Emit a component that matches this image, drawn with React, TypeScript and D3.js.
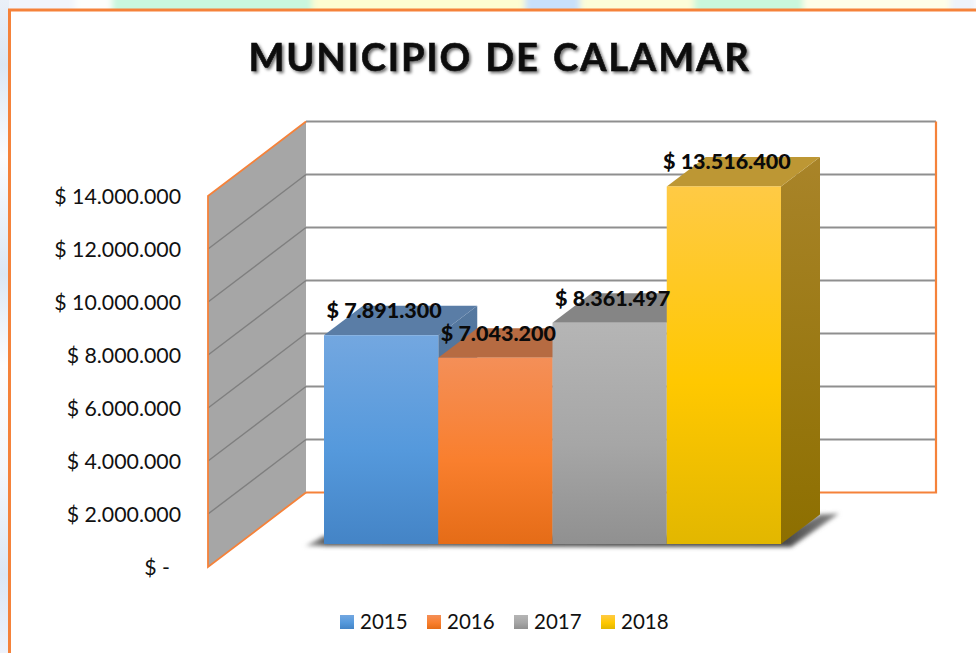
import React from "react";
import * as d3 from "d3";

const title = "MUNICIPIO DE CALAMAR";
const years = ["2015", "2016", "2017", "2018"];
const values = [7891300, 7043200, 8361497, 13516400];
const ticks = [0, 2000000, 4000000, 6000000, 8000000, 10000000, 12000000, 14000000];
const frontStops = [
  ["#73a7e0", "#5599dc", "#4484c6"],
  ["#f48f58", "#f97f2e", "#e56c17"],
  ["#b5b5b5", "#a6a6a6", "#909090"],
  ["#ffca45", "#ffc800", "#e2b700"],
];
const topColors = ["#5a7da6", "#b66b42", "#858585", "#bd9734"];
const sideStops = [
  ["#55789f", "#4a6e96"],
  ["#b06a40", "#a05a2c"],
  ["#808080", "#6f6f6f"],
  ["#a98429", "#8d6f00"],
];
const bgPatches: [number, number, string][] = [
  [0, 75, "#f1f5fb"],
  [75, 112, "#fdfefb"],
  [112, 312, "#c9f7de"],
  [312, 525, "#fdfdd2"],
  [525, 580, "#c8e0fb"],
  [580, 694, "#fcfdd8"],
  [694, 803, "#c9f7dc"],
  [803, 950, "#fefee8"],
  [950, 976, "#eef3fa"],
];

const fontFamily = "Lato, 'Open Sans', sans-serif";
const ORANGE = "#f5823a";
const GRID = "#8f8f8f";

const money = d3.formatLocale({
  decimal: ",",
  thousands: ".",
  grouping: [3],
  currency: ["$ ", ""],
}).format("$,.0f");

const tickLabel = (v: number) => (v === 0 ? "$ -" : money(v));

const W = 976;
const H = 653;
// Wall plane (left, front edge) and the bars' plane
const yWall = d3.scaleLinear().domain([0, 14000000]).range([567, 196]);
const yBar = d3.scaleLinear().domain([0, 14000000]).range([544, 173.6]);
const x = d3.scaleBand<string>().domain(years).range([324, 781]).paddingInner(0).paddingOuter(0);
const WALL_X0 = 208;
const WALL_DX = 98;
const WALL_DY = 74.5;
const BACK_X1 = 936;
const BAR_DX = 39;
const BAR_DY = 29.5;

const poly = (pts: [number, number][]) => d3.line()(pts) + "Z";

export default function App() {
  const y0 = yBar(0);
  const xEnd = x.range()[1];
  const xStart = x.range()[0];
  return (
    <svg
      width={W}
      height={H}
      viewBox={`0 0 ${W} ${H}`}
      style={{ position: "absolute", left: 0, top: 0, display: "block" }}
    >
      <defs>
        <linearGradient id="leftBg" x1="0" x2="0" y1="0" y2="1">
          <stop offset="0" stopColor="#eaf0f8" />
          <stop offset="0.1" stopColor="#dce7f4" />
          <stop offset="0.24" stopColor="#fbfcfe" />
          <stop offset="0.42" stopColor="#dce7f4" />
          <stop offset="0.56" stopColor="#fdfdfe" />
          <stop offset="0.72" stopColor="#f4f7fb" />
          <stop offset="0.88" stopColor="#dce7f5" />
          <stop offset="1" stopColor="#eef2fb" />
        </linearGradient>
        <linearGradient id="shadowFill" x1="0" x2="1" y1="0" y2="0">
          <stop offset="0" stopColor="#bdbdbd" />
          <stop offset="0.04" stopColor="#555" />
          <stop offset="0.9" stopColor="#4a4a4a" />
          <stop offset="1" stopColor="#8a8a8a" />
        </linearGradient>
        {frontStops.map((s, i) => (
          <linearGradient id={`front${i}`} key={i} x1="0" x2="0" y1="0" y2="1">
            <stop offset="0" stopColor={s[0]} />
            <stop offset="0.55" stopColor={s[1]} />
            <stop offset="1" stopColor={s[2]} />
          </linearGradient>
        ))}
        {sideStops.map((s, i) => (
          <linearGradient id={`side${i}`} key={i} x1="0" x2="0" y1="0" y2="1">
            <stop offset="0" stopColor={s[0]} />
            <stop offset="1" stopColor={s[1]} />
          </linearGradient>
        ))}
        <filter id="titleShadow" x="-5%" y="-30%" width="110%" height="170%">
          <feDropShadow dx="2" dy="2" stdDeviation="1.6" floodColor="#000" floodOpacity="0.55" />
        </filter>
        <filter id="barShadow" x="-10%" y="-30%" width="120%" height="160%">
          <feGaussianBlur stdDeviation="2" />
        </filter>
        <filter id="soft" x="-5%" y="-100%" width="110%" height="300%">
          <feGaussianBlur stdDeviation="3" />
        </filter>
        <clipPath id="topStrip">
          <rect x={0} y={0} width={W} height={10} />
        </clipPath>
      </defs>

      {/* page background */}
      <rect x={0} y={0} width={W} height={H} fill="#fff" />
      <g clipPath="url(#topStrip)">
        <g filter="url(#soft)">
          {bgPatches.map(([a, b, c]) => (
            <rect key={a} x={a} y={-12} width={b - a} height={34} fill={c} />
          ))}
        </g>
      </g>
      <rect x={0} y={0} width={9} height={H} fill="url(#leftBg)" />

      {/* chart frame */}
      <path d={`M9.5,${H}V10H${W}`} fill="none" stroke={ORANGE} strokeWidth={3} />

      <text
        x={499.5}
        y={71}
        textAnchor="middle"
        fontFamily={fontFamily}
        fontWeight={700}
        fontSize={38}
        letterSpacing={1.9}
        wordSpacing={2}
        fill="#0a0a0a"
        stroke="#0a0a0a"
        strokeWidth={0.5}
        filter="url(#titleShadow)"
      >
        {title}
      </text>

      {/* back wall */}
      <rect
        x={WALL_X0 + WALL_DX}
        y={yWall(14000000) - WALL_DY}
        width={BACK_X1 - WALL_X0 - WALL_DX}
        height={yWall(0) - yWall(14000000)}
        fill="#fff"
      />
      {ticks.slice(1).map((t) => (
        <line
          key={t}
          x1={WALL_X0 + WALL_DX}
          x2={BACK_X1}
          y1={yWall(t) - WALL_DY}
          y2={yWall(t) - WALL_DY}
          stroke={GRID}
          strokeWidth={2}
        />
      ))}
      <path
        d={`M${WALL_X0 + WALL_DX},${yWall(0) - WALL_DY}H${BACK_X1}V${yWall(14000000) - WALL_DY}`}
        fill="none"
        stroke={ORANGE}
        strokeWidth={2.2}
      />

      {/* side wall */}
      <path
        d={poly([
          [WALL_X0, yWall(0)],
          [WALL_X0, yWall(14000000)],
          [WALL_X0 + WALL_DX, yWall(14000000) - WALL_DY],
          [WALL_X0 + WALL_DX, yWall(0) - WALL_DY],
        ])}
        fill="#a6a6a6"
      />
      {ticks.slice(1, -1).map((t) => (
        <line
          key={t}
          x1={WALL_X0}
          x2={WALL_X0 + WALL_DX}
          y1={yWall(t)}
          y2={yWall(t) - WALL_DY}
          stroke="#7f7f7f"
          strokeWidth={1.4}
        />
      ))}
      <path
        d={`M${WALL_X0 + WALL_DX},${yWall(14000000) - WALL_DY}L${WALL_X0},${yWall(14000000)}V${yWall(0)}L${WALL_X0 + WALL_DX},${yWall(0) - WALL_DY}`}
        fill="none"
        stroke={ORANGE}
        strokeWidth={1.8}
      />

      {/* y axis labels */}
      {ticks.map((t) => (
        <text
          key={t}
          x={t === 0 ? 170 : 181}
          y={yWall(t) + 8}
          textAnchor="end"
          fontFamily={fontFamily}
          fontSize={21.3}
          fill="#111"
        >
          {tickLabel(t)}
        </text>
      ))}

      {/* floor shadow */}
      <path
        d={poly([
          [xStart - 19, y0 + 2],
          [xStart, y0 - 8],
          [xEnd, y0 - 8],
          [xEnd + BAR_DX, y0 - BAR_DY],
          [xEnd + BAR_DX + 19, y0 - BAR_DY - 1],
          [xEnd + 10, y0 + 3],
        ])}
        fill="url(#shadowFill)"
        filter="url(#barShadow)"
      />

      {/* bars */}
      {values.map((v, i) => {
        const xa = x(years[i]) as number;
        const xb = xa + x.bandwidth();
        const yt = yBar(v);
        return (
          <g key={years[i]}>
            <path
              d={poly([
                [xb, y0],
                [xb, yt],
                [xb + BAR_DX, yt - BAR_DY],
                [xb + BAR_DX, y0 - BAR_DY],
              ])}
              fill={`url(#side${i})`}
            />
            <path
              d={poly([
                [xa, yt],
                [xa + BAR_DX, yt - BAR_DY],
                [xb + BAR_DX, yt - BAR_DY],
                [xb, yt],
              ])}
              fill={topColors[i]}
            />
            <rect x={xa} y={yt} width={x.bandwidth()} height={y0 - yt} fill={`url(#front${i})`} />
          </g>
        );
      })}

      {/* data labels */}
      {values.map((v, i) => (
        <text
          key={years[i]}
          x={(x(years[i]) as number) + x.bandwidth() / 2 + 3}
          y={yBar(v) - 17}
          textAnchor="middle"
          fontFamily={fontFamily}
          fontWeight={900}
          fontSize={21.5}
          fill="#0a0a0a"
        >
          {money(v)}
        </text>
      ))}

      {/* legend */}
      {years.map((yr, i) => {
        const lx = [340, 427, 514, 601][i];
        return (
          <g key={yr}>
            <rect x={lx} y={615} width={14} height={14} fill={`url(#front${i})`} />
            <text x={lx + 20} y={629} fontFamily={fontFamily} fontSize={20.5} fill="#111">
              {yr}
            </text>
          </g>
        );
      })}
    </svg>
  );
}
